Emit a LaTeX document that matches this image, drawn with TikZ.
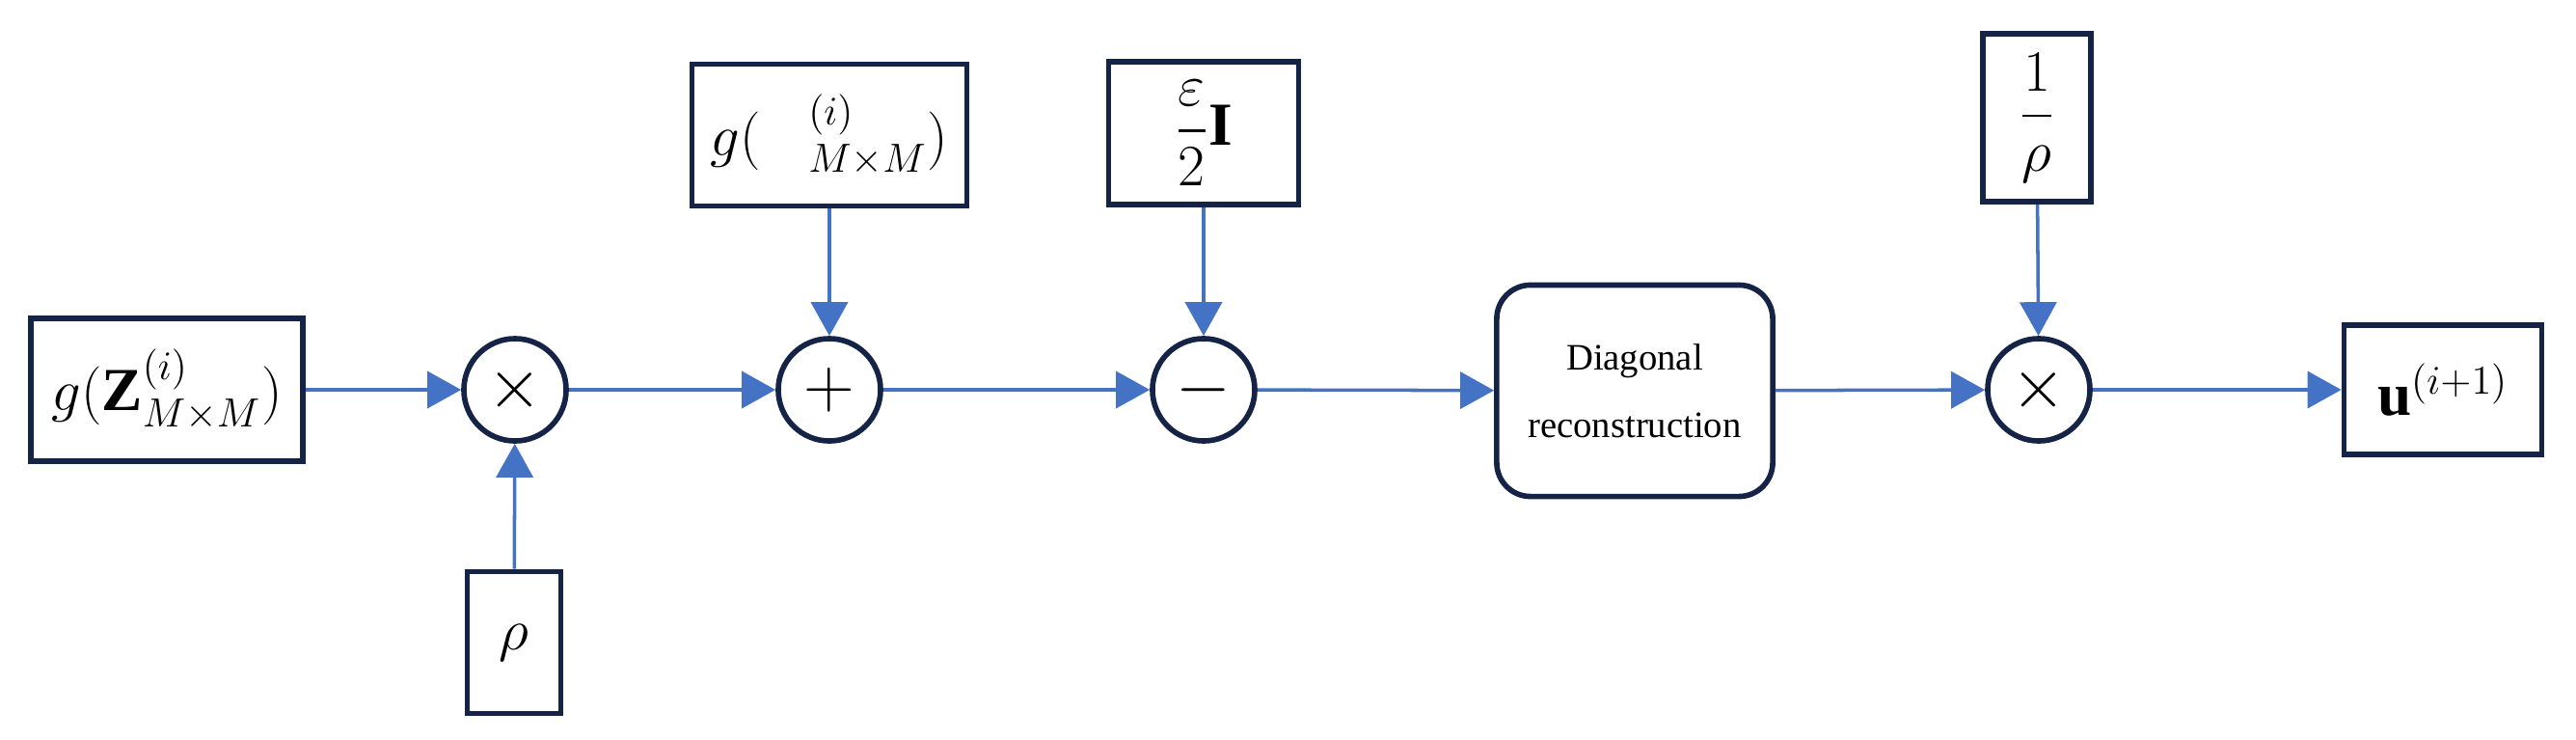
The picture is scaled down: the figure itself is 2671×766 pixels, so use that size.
\documentclass[tikz,border=0pt]{standalone}
\usepackage{amsmath}
\usepackage{fontspec}
\setmainfont{Liberation Serif}
\usetikzlibrary{arrows.meta}
\definecolor{lb}{RGB}{68,114,196}
\definecolor{db}{RGB}{20,35,70}
\begin{document}
\begin{tikzpicture}[x=0.01cm,y=-0.01cm,
  box/.style={draw=db,line width=1.6pt,inner sep=0pt,font=\fontsize{18}{20}\selectfont},
  op/.style={circle,draw=db,line width=1.6pt,minimum size=1.06cm,inner sep=0pt,font=\fontsize{22}{24}\selectfont},
  arr/.style={lb,line width=1pt,-{Triangle[length=0.35cm,width=0.38cm]}},
  ln/.style={lb,line width=1pt}]
\useasboundingbox (0,0) rectangle (2671,766);
\node[box,minimum width=2.82cm,minimum height=1.48cm] (z) at (173,404) {$g(\mathbf{Z}^{(i)}_{M\times M})$};
\node[op] (m1) at (534,404) {$\times$};
\node[box,minimum width=0.97cm,minimum height=1.47cm] (rho) at (533,666) {$\rho$};
\node[op] (p) at (860,404) {$+$};
\node[box,minimum width=2.85cm,minimum height=1.47cm] (lam) at (860,140) {$g(\mathbf{\Lambda}^{(i)}_{M\times M})$};
\node[op] (s) at (1248,404) {$-$};
\node[box,minimum width=1.97cm,minimum height=1.48cm] (eps) at (1248,138) {$\dfrac{\varepsilon}{2}\mathbf{I}$};
\node[draw=db,line width=1.6pt,rounded corners=0.35cm,minimum width=2.86cm,minimum height=2.19cm,align=center,font=\fontsize{11}{20}\selectfont] (d) at (1695,405) {Diagonal\\reconstruction};
\node[op] (m2) at (2114,404) {$\times$};
\node[box,minimum width=1.12cm,minimum height=1.74cm] (ir) at (2112,122) {$\dfrac{1}{\rho}$};
\node[box,minimum width=2.05cm,minimum height=1.34cm] (u) at (2533,404) {$\mathbf{u}^{(i+1)}$};
\draw[arr] (z) -- (m1);
\draw[arr] (rho) -- (m1);
\draw[arr] (m1) -- (p);
\draw[arr] (lam) -- (p);
\draw[arr] (p) -- (s);
\draw[arr] (eps) -- (s);
\draw[arr] (s) -- (d);
\draw[arr] (d) -- (m2);
\draw[arr] (ir) -- (m2);
\draw[arr] (m2) -- (u);
\end{tikzpicture}
\end{document}
